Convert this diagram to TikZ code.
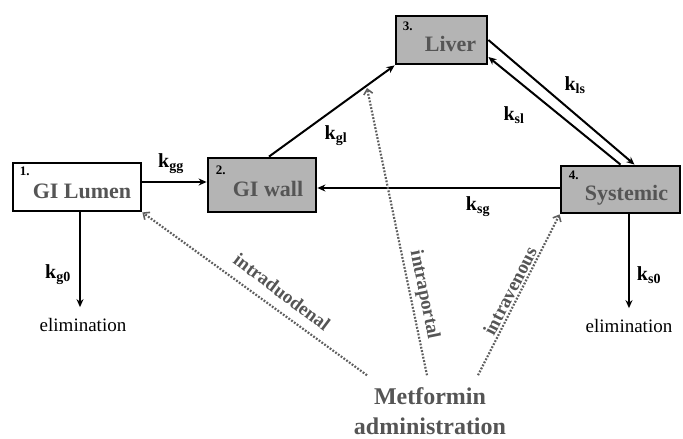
\documentclass[tikz,border=0pt]{standalone}
\usepackage{fontspec}
\setmainfont{Liberation Serif}
\usepackage{xcolor}
\usetikzlibrary{arrows.meta}
\definecolor{boxgray}{HTML}{B4B4B4}
\definecolor{labgray}{HTML}{555555}
\definecolor{dotgray}{HTML}{5E5E5E}
\newcommand{\rate}[1]{\textbf{k\textsubscript{#1}}}

\begin{document}
\begin{tikzpicture}[x=1pt, y=-1pt,
    box/.style={draw=black, fill=boxgray, line width=2.8pt, inner sep=0pt,
        text height=22pt, text depth=0pt, text=labgray,
        font=\fontsize{22}{24}\selectfont\bfseries},
    numlab/.style={anchor=north west, inner sep=0pt, font=\fontsize{13}{13}\selectfont\bfseries},
    ratelab/.style={inner sep=0pt, font=\fontsize{20}{20}\selectfont},
    flow/.style={line width=2pt, -{Stealth[length=8pt,width=7pt]}},
    route/.style={dotgray, line width=2.2pt, dash pattern=on 1.8pt off 1.6pt,
        -{Straight Barb[length=5pt,width=9pt,line width=1.6pt]}},
    routelab/.style={inner sep=0pt, text=labgray, font=\fontsize{19}{20}\selectfont\bfseries},
    elim/.style={inner sep=1pt, font=\fontsize{19}{20}\selectfont}]

    \useasboundingbox (0,0) rectangle (683,439);

    % Compartment 1 - GI lumen (white box)
    \node[box, fill=white, minimum width=128pt, minimum height=48pt] (lumen) at (77,187) {\hspace*{10pt}GI Lumen};
    \node[numlab] at ([xshift=8pt,yshift=-5pt]lumen.north west) {1.};

    % Compartment 2 - GI wall (gray box)
    \node[box, minimum width=108pt, minimum height=54pt] (wall) at (262,185) {\hspace*{12pt}GI wall};
    \node[numlab] at ([xshift=9pt,yshift=-9pt]wall.north west) {2.};

    % Compartment 3 - Liver (gray box)
    \node[box, minimum width=91pt, minimum height=48pt] (liver) at (441.5,40) {\hspace*{18pt}Liver};
    \node[numlab] at ([xshift=8pt,yshift=-7pt]liver.north west) {3.};

    % Compartment 4 - Systemic (gray box)
    \node[box, minimum width=119pt, minimum height=47pt] (sys) at (620.5,189.5) {\hspace*{12pt}Systemic};
    \node[numlab] at ([xshift=9pt,yshift=-6pt]sys.north west) {4.};

    % Elimination and drug input
    \node[elim] (elimg) at (83,325) {elimination};
    \node[elim] (elims) at (629,326) {elimination};
    \node[align=center, inner sep=2pt, text=labgray, font=\fontsize{24}{30}\selectfont\bfseries]
        (drug) at (430,411) {Metformin\\administration};
    \coordinate (portal) at (367,88);

    % Rate constants (solid arrows)
    \draw[flow] ([yshift=5pt]lumen.east) -- ([yshift=3pt]wall.west);
    \draw[flow] ([xshift=7pt]wall.north) -- (liver.south west);
    \draw[flow] (liver.east) -- ([xshift=14pt]sys.north);
    \draw[flow] (sys.north) -- ([yshift=-17pt]liver.east);
    \draw[flow] ([yshift=1.5pt]sys.west) -- ([yshift=-3pt]wall.east);
    \draw[flow] ([xshift=3pt]lumen.south) -- ([xshift=-3pt,yshift=10pt]elimg.north);
    \draw[flow] ([xshift=8.5pt]sys.south) -- ([yshift=10pt]elims.north);

    \node[ratelab] (kgg) at (171,164) {\rate{gg}};
    \node[ratelab] (kgl) at (336,136) {\rate{gl}};
    \node[ratelab] (kls) at (575,85) {\rate{ls}};
    \node[ratelab] (ksl) at (514,115) {\rate{sl}};
    \node[ratelab] (ksg) at (478,207) {\rate{sg}};
    \node[ratelab] (kg0) at (58,275) {\rate{g0}};
    \node[ratelab] (ks0) at (649,275) {\rate{s0}};

    % Routes of administration (dotted arrows)
    \draw[route] ([xshift=-63pt,yshift=10pt]drug.north) -- (lumen.south east);
    \draw[route] ([xshift=-3pt,yshift=10pt]drug.north) -- (portal);
    \draw[route] ([xshift=48pt,yshift=10pt]drug.north) -- (sys.south west);

    \node[routelab, rotate=-37] (duod) at (282,292) {intraduodenal};
    \node[routelab, rotate=-78.5] (port) at (424,295) {intraportal};
    \node[routelab, rotate=63] (ven) at (510,291) {intravenous};
\end{tikzpicture}
\end{document}
